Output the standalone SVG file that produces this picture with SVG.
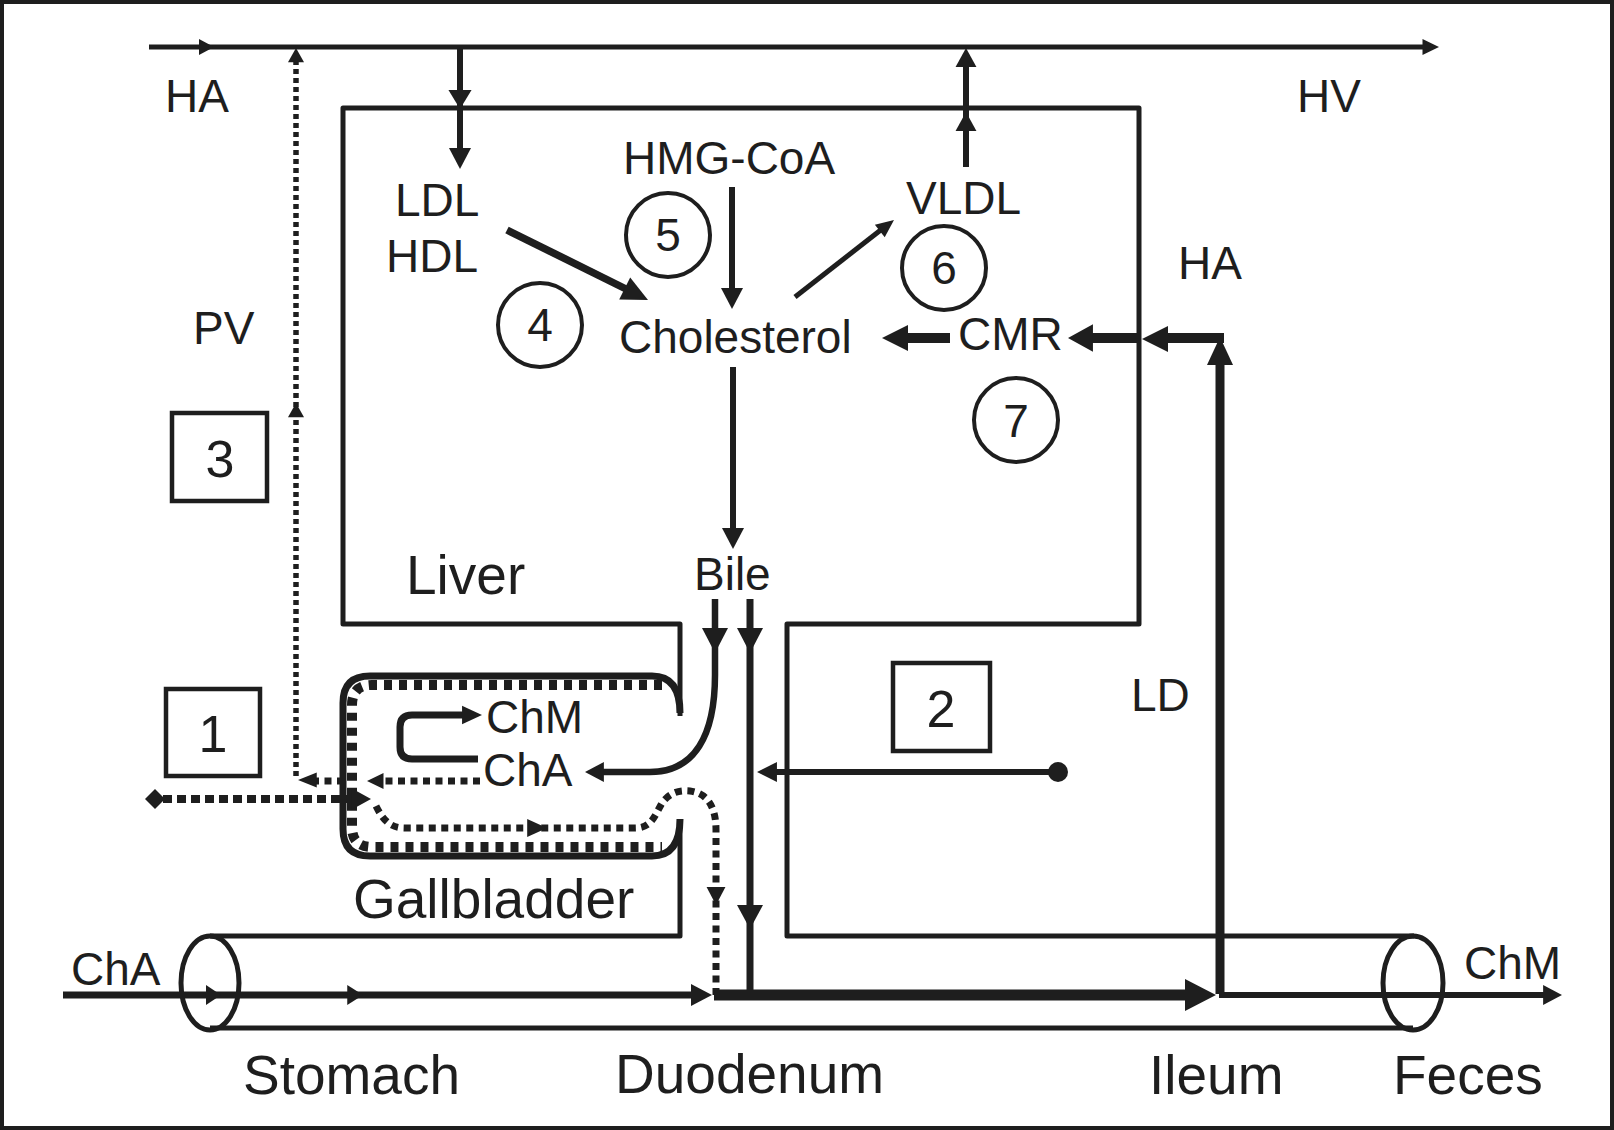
<svg xmlns="http://www.w3.org/2000/svg" xmlns:xlink="http://www.w3.org/1999/xlink" width="1614" height="1130" viewBox="0 0 1614 1130">
<defs>
<style>
.ln{fill:none;stroke:#1e1e1e;stroke-linecap:butt;stroke-linejoin:round}
.ah{fill:#1e1e1e}
text{font-family:"Liberation Sans",Arial,Helvetica,sans-serif;fill:#1e1e1e}
.t{font-size:46px}
.tb{font-size:55px}
.tn{font-size:52px}
.mid{text-anchor:middle}
.cir{fill:none;stroke:#1e1e1e;stroke-width:4}
.box{fill:none;stroke:#1e1e1e;stroke-width:4.5}
.dt1{stroke-dasharray:5 4;stroke-width:5.5}
.dt2{stroke-dasharray:7 5.5;stroke-width:7}
.dt3{stroke-dasharray:9 5;stroke-width:8}
</style>
<path id="aS" class="ah" d="M0,0 L-15,-8 L-15,8 Z"/>
<path id="aD" class="ah" d="M0,0 L-18,-9 L-18,9 Z"/>
<path id="aM" class="ah" d="M0,0 L-21,-11 L-21,11 Z"/>
<path id="aL" class="ah" d="M0,0 L-26,-13 L-26,13 Z"/>
<path id="aXL" class="ah" d="M0,0 L-31,-16 L-31,16 Z"/>
</defs>
<rect x="2" y="2" width="1610" height="1126" fill="#ffffff" stroke="#1e1e1e" stroke-width="4"/>

<g id="liver">
<path class="ln" stroke-width="5" d="M680,716 V624 H343 V108 H1139 V624 H787 V936 H1414"/>
<text class="tb" x="406" y="594">Liver</text>
</g>

<g id="intestine">
<path class="ln" stroke-width="5" d="M680,819 V936 H210"/>
<path class="ln" stroke-width="5" d="M210,1028 H1413"/>
<ellipse class="ln" stroke-width="5" cx="210" cy="983" rx="29" ry="47"/>
<ellipse class="ln" stroke-width="5" cx="1413" cy="983" rx="30" ry="47"/>
<text class="tb" x="243" y="1094">Stomach</text>
<text class="tb" x="615" y="1093">Duodenum</text>
<text class="tb" x="1149" y="1094">Ileum</text>
<text class="tb" x="1393" y="1094">Feces</text>
</g>

<g id="gallbladder">
<path class="ln" stroke-width="7" d="M680,713 C680,690 672,676 652,676 H370 Q343,676 343,703 V829 Q343,856 370,856 H652 C672,856 680,842 680,819"/>
<path class="ln" stroke-width="10" stroke-dasharray="8 7" d="M662,685 H372 Q352,685 352,705 V827 Q352,847 372,847 H662"/>
<text class="tb" x="353" y="918">Gallbladder</text>
</g>

<g id="labels">
<text class="t" x="165" y="112">HA</text>
<text class="t" x="1297" y="112">HV</text>
<text class="t" x="193" y="344">PV</text>
<text class="t" x="395" y="216">LDL</text>
<text class="t" x="386" y="272">HDL</text>
<text class="t" x="623" y="174">HMG-CoA</text>
<text class="t" x="906" y="214">VLDL</text>
<text class="t" x="1178" y="279">HA</text>
<text class="t" x="619" y="353">Cholesterol</text>
<text class="t" x="958" y="350">CMR</text>
<text class="t" x="694" y="590">Bile</text>
<text class="t" x="1131" y="711">LD</text>
<text class="t" x="486" y="733">ChM</text>
<text class="t" x="483" y="786">ChA</text>
<text class="t" x="71" y="985">ChA</text>
<text class="t" x="1464" y="979">ChM</text>
</g>

<g id="circle4"><circle class="cir" cx="540" cy="325" r="42"/><text class="t mid" x="540" y="341">4</text></g>
<g id="circle5"><circle class="cir" cx="668" cy="235" r="42"/><text class="t mid" x="668" y="251">5</text></g>
<g id="circle6"><circle class="cir" cx="944" cy="268" r="42"/><text class="t mid" x="944" y="284">6</text></g>
<g id="circle7"><circle class="cir" cx="1016" cy="420" r="42"/><text class="t mid" x="1016" y="437">7</text></g>

<g id="box1"><rect class="box" x="166" y="689" width="94" height="87"/><text class="tn mid" x="213" y="752">1</text></g>
<g id="box2"><rect class="box" x="893" y="663" width="97" height="88"/><text class="tn mid" x="941" y="727">2</text></g>
<g id="box3"><rect class="box" x="172" y="413" width="95" height="88"/><text class="tn mid" x="220" y="477">3</text></g>

<g id="connectors">
<!-- HA -> HV top vessel -->
<path class="ln" stroke-width="5" d="M149,47 H1425"/>
<use xlink:href="#aS" transform="translate(214,47)"/>
<use xlink:href="#aS" transform="translate(1439,47) scale(1.1,1)"/>
<!-- LDL uptake -->
<path class="ln" stroke-width="6" d="M460,47 V150"/>
<use xlink:href="#aM" transform="translate(460,109) rotate(90) scale(0.9,1.05)"/>
<use xlink:href="#aM" transform="translate(460,169) rotate(90)"/>
<!-- VLDL secretion -->
<path class="ln" stroke-width="6" d="M966,167 V60"/>
<use xlink:href="#aM" transform="translate(966,112) rotate(-90) scale(0.9,0.95)"/>
<use xlink:href="#aM" transform="translate(966,48) rotate(-90) scale(0.9,0.95)"/>
<!-- LDL/HDL -> Cholesterol -->
<path class="ln" stroke-width="7.5" d="M507,230 L628,290"/>
<use xlink:href="#aL" transform="translate(648,300) rotate(26.4) scale(1,0.95)"/>
<!-- HMG-CoA -> Cholesterol -->
<path class="ln" stroke-width="6" d="M732,187 V290"/>
<use xlink:href="#aM" transform="translate(732,309) rotate(90)"/>
<!-- Cholesterol -> VLDL -->
<path class="ln" stroke-width="5" d="M795,297 L882,229"/>
<use xlink:href="#aS" transform="translate(894,220) rotate(-37.9) scale(1.2,1)"/>
<!-- Cholesterol -> Bile -->
<path class="ln" stroke-width="6" d="M733,367 V530"/>
<use xlink:href="#aM" transform="translate(733,549) rotate(90)"/>
<!-- CMR -> Cholesterol -->
<path class="ln" stroke-width="10" d="M950,338 H900"/>
<use xlink:href="#aL" transform="translate(882,338) rotate(180)"/>
<!-- LD -> CMR -->
<path class="ln" stroke-width="9" d="M1220,994 V358"/>
<use xlink:href="#aL" transform="translate(1220,337) rotate(-90) scale(1.08,1)"/>
<path class="ln" stroke-width="10" d="M1224,338 H1160"/>
<use xlink:href="#aL" transform="translate(1142,339) rotate(180)"/>
<path class="ln" stroke-width="10" d="M1139,338 H1088"/>
<use xlink:href="#aL" transform="translate(1068,338) rotate(180) scale(0.96,1.05)"/>
<!-- Bile to gallbladder -->
<path class="ln" stroke-width="6.5" d="M715,599 V675 C715,735 695,772 650,772 H598"/>
<use xlink:href="#aL" transform="translate(715,653) rotate(90) scale(0.96,1)"/>
<use xlink:href="#aM" transform="translate(585,772) rotate(180) scale(0.9,0.9)"/>
<!-- Bile to duodenum -->
<path class="ln" stroke-width="7" d="M750,599 V995"/>
<use xlink:href="#aL" transform="translate(750,653) rotate(90) scale(0.96,1)"/>
<use xlink:href="#aL" transform="translate(750,929) rotate(90) scale(0.92,1)"/>
<!-- inhibition 2 -->
<path class="ln" stroke-width="6" d="M1058,772 H772"/>
<use xlink:href="#aM" transform="translate(757,772) rotate(180) scale(0.95,0.9)"/>
<circle class="ah" cx="1058" cy="772" r="10"/>
<!-- ChA -> ChM loop -->
<path class="ln" stroke-width="7" d="M478,759 H412 Q400,759 400,747 V727 Q400,715 412,715 H466"/>
<use xlink:href="#aM" transform="translate(482,715) scale(0.95,0.85)"/>
<!-- Intestinal lumen -->
<path class="ln" stroke-width="7" d="M63,995 H694"/>
<use xlink:href="#aS" transform="translate(221,995) scale(1,1.25)"/>
<use xlink:href="#aS" transform="translate(363,995) scale(1.05,1.25)"/>
<use xlink:href="#aM" transform="translate(712,995)"/>
<path class="ln" stroke-width="11" d="M714,995 H1190"/>
<use xlink:href="#aXL" transform="translate(1216,995)"/>
<path class="ln" stroke-width="6" d="M1219,995 H1545"/>
<use xlink:href="#aM" transform="translate(1562,995) scale(0.9,0.9)"/>
<!-- dotted: portal vein -->
<path class="ln dt1" d="M296,776 V60"/>
<use xlink:href="#aS" transform="translate(296,48) rotate(-90) scale(0.95,1)"/>
<use xlink:href="#aS" transform="translate(296,403) rotate(-90) scale(0.95,1)"/>
<path class="ln dt2" stroke-width="6" d="M344,781 H314"/>
<use xlink:href="#aS" transform="translate(298,780) rotate(180) scale(1.25,0.95)"/>
<!-- dotted: ChA absorption from gallbladder -->
<path class="ln dt2" stroke-width="6" d="M480,781 H383"/>
<use xlink:href="#aS" transform="translate(367,781) rotate(180) scale(1.1,1)"/>
<!-- dotted: diamond line -->
<path class="ln dt3" d="M163,799 H352"/>
<path class="ah" d="M145,799 L155,789 L165,799 L155,809 Z"/>
<use xlink:href="#aM" transform="translate(371,799) scale(0.95,1)"/>
<!-- dotted: gallbladder to duodenum -->
<path class="ln dt2" d="M376,806 C383,820 390,828 405,828 H635 C652,828 655,815 662,803 C670,792 680,790 690,791 C706,793 716,805 716,830 V995"/>
<use xlink:href="#aD" transform="translate(547,828) scale(1.1,1)"/>
<use xlink:href="#aD" transform="translate(716,905) rotate(90) scale(1,1.05)"/>
</g>
</svg>
